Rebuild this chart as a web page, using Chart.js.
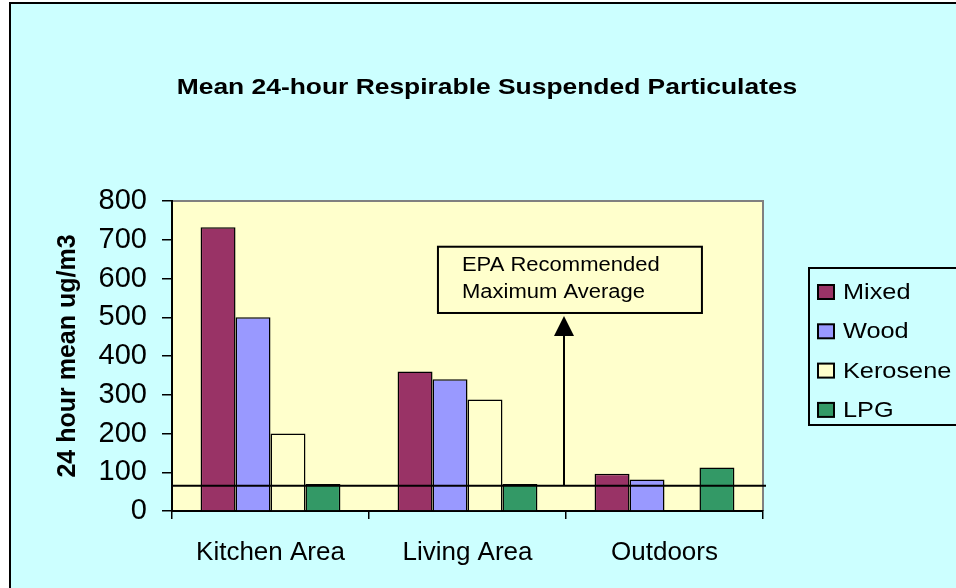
<!DOCTYPE html>
<html>
<head>
<meta charset="utf-8">
<script src="https://cdn.jsdelivr.net/npm/chart.js@4/dist/chart.umd.min.js"></script>
<style>
  html, body { margin: 0; padding: 0; background: #fff; }
  canvas { display: block; }
</style>
</head>
<body>
<canvas id="rspChart" width="956" height="588"></canvas>
<script>
// data
const categories = ["Kitchen Area", "Living Area", "Outdoors"];
const mixed = [732, 360, 96];
const wood = [500, 340, 81];
const kerosene = [200, 288, null];
const lpg = [70, 70, 112];
const epaLimit = 65;
const yMin = 0, yMax = 800, yStep = 100;

const FONT = '"Liberation Sans", Arial, sans-serif';

// draws text slightly stretched sideways like the original export
function wideText(ctx, txt, x, y, stretch, align) {
  ctx.save();
  ctx.translate(x, y);
  ctx.scale(stretch, 1);
  ctx.textAlign = align || "left";
  ctx.fillText(txt, 0, 0);
  ctx.restore();
}

const decorPlugin = {
  id: "decor",
  beforeDraw(chart) {
    const { ctx, chartArea: a } = chart;
    ctx.save();
    ctx.fillStyle = "#fff";
    ctx.fillRect(0, 0, chart.width, chart.height);
    ctx.fillStyle = "#CCFFFF";
    ctx.fillRect(10, 3, chart.width, chart.height);
    ctx.strokeStyle = "#000";
    ctx.lineWidth = 2;
    ctx.beginPath();
    ctx.moveTo(10, chart.height);
    ctx.lineTo(10, 3);
    ctx.lineTo(chart.width, 3);
    ctx.stroke();
    // plot area
    ctx.fillStyle = "#FFFFCC";
    ctx.fillRect(a.left, a.top, a.right - a.left, a.bottom - a.top);
    ctx.strokeStyle = "#808080";
    ctx.lineWidth = 2;
    ctx.beginPath();
    ctx.moveTo(a.left, a.top);
    ctx.lineTo(a.right, a.top);
    ctx.lineTo(a.right, a.bottom);
    ctx.stroke();
    ctx.restore();
  },
  afterDatasetsDraw(chart) {
    const { ctx, chartArea: a } = chart;
    const xs = chart.scales.x, ys = chart.scales.y;
    ctx.save();
    // EPA line
    const yl = ys.getPixelForValue(epaLimit);
    ctx.strokeStyle = "#000";
    ctx.lineWidth = 2;
    ctx.beginPath();
    ctx.moveTo(a.left, yl);
    ctx.lineTo(a.right + 3, yl);
    ctx.stroke();

    // arrow up to the note
    const ax = xs.getPixelForValue(1.5) - 2;
    const tip = ys.getPixelForValue(503);
    ctx.beginPath();
    ctx.moveTo(ax, yl);
    ctx.lineTo(ax, tip + 18);
    ctx.stroke();
    ctx.fillStyle = "#000";
    ctx.beginPath();
    ctx.moveTo(ax, tip);
    ctx.lineTo(ax - 10, tip + 20);
    ctx.lineTo(ax + 10, tip + 20);
    ctx.closePath();
    ctx.fill();

    // note box
    const bx1 = xs.getPixelForValue(0.85), bx2 = xs.getPixelForValue(2.19);
    const by1 = ys.getPixelForValue(682), by2 = ys.getPixelForValue(511);
    ctx.fillStyle = "#FFFFCC";
    ctx.fillRect(bx1, by1, bx2 - bx1, by2 - by1);
    ctx.lineWidth = 2;
    ctx.strokeRect(bx1, by1, bx2 - bx1, by2 - by1);
    ctx.fillStyle = "#000";
    ctx.font = "20px " + FONT;
    ctx.textBaseline = "alphabetic";
    wideText(ctx, "EPA Recommended", bx1 + 24, by1 + 24, 1.1);
    wideText(ctx, "Maximum Average", bx1 + 24, by1 + 51, 1.1);
    ctx.restore();
  },
  afterDraw(chart) {
    const { ctx } = chart;
    ctx.save();
    ctx.fillStyle = "#000";
    ctx.textBaseline = "alphabetic";
    ctx.font = "bold 22px " + FONT;
    wideText(ctx, "Mean 24-hour Respirable Suspended Particulates", 487, 94, 1.2, "center");

    // legend
    const lx = 809, ly = 268;
    ctx.strokeStyle = "#000";
    ctx.lineWidth = 2;
    ctx.strokeRect(lx, ly, 160, 157);
    ctx.font = "22px " + FONT;
    ctx.textBaseline = "middle";
    chart.data.datasets.forEach((ds, i) => {
      const cy = 292 + i * 39.3;
      ctx.fillStyle = ds.backgroundColor;
      ctx.fillRect(lx + 9, cy - 7, 16, 14);
      ctx.lineWidth = 2;
      ctx.strokeRect(lx + 9, cy - 7, 16, 14);
      ctx.fillStyle = "#000";
      wideText(ctx, ds.label, lx + 34, cy + 1, 1.15);
    });
    ctx.restore();
  }
};

const barStyle = { borderColor: "#000", borderWidth: 1.5, categoryPercentage: 0.71, barPercentage: 1 };

new Chart(document.getElementById("rspChart"), {
  type: "bar",
  data: {
    labels: categories,
    datasets: [
      { label: "Mixed", data: mixed, backgroundColor: "#993366", ...barStyle },
      { label: "Wood", data: wood, backgroundColor: "#9999FF", ...barStyle },
      { label: "Kerosene", data: kerosene, backgroundColor: "#FFFFCC", ...barStyle },
      { label: "LPG", data: lpg, backgroundColor: "#339966", ...barStyle }
    ]
  },
  options: {
    responsive: false,
    animation: false,
    devicePixelRatio: 1,
    layout: { padding: { left: 0, right: 193, top: 201, bottom: 0 } },
    plugins: {
      legend: { display: false },
      title: { display: false },
      tooltip: { enabled: false }
    },
    scales: {
      x: {
        afterFit(scale) { scale.height = 77; },
        grid: { offset: true, drawOnChartArea: false, tickLength: 8, color: "#000", lineWidth: 1.5 },
        border: { display: true, color: "#000", width: 2 },
        ticks: { color: "#000", font: { family: FONT, size: 26 }, padding: 18, maxRotation: 0 }
      },
      y: {
        min: yMin,
        max: yMax,
        afterFit(scale) { scale.width = 172; },
        grid: { drawOnChartArea: false, tickLength: 10, color: "#000", lineWidth: 1.5 },
        border: { display: true, color: "#000", width: 2 },
        ticks: { stepSize: yStep, color: "#000", font: { family: FONT, size: 29 }, padding: 15 },
        title: {
          display: true,
          text: "24 hour mean ug/m3",
          color: "#000",
          font: { family: FONT, size: 25, weight: "bold" },
          padding: { top: 53, bottom: 0 }
        }
      }
    }
  },
  plugins: [decorPlugin]
});
</script>
</body>
</html>
